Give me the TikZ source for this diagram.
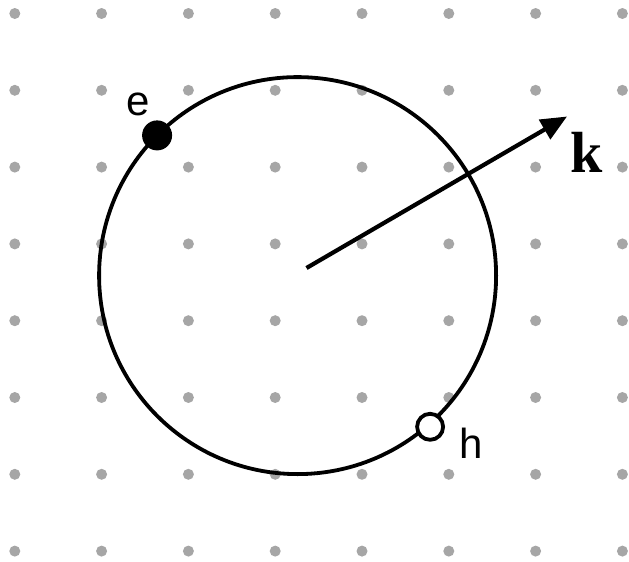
\documentclass[tikz,border=0pt]{standalone}
\usepackage{fontspec}
\setmainfont{Liberation Sans}
\newfontfamily\kserif{Liberation Serif}
\usetikzlibrary{arrows.meta,calc}
\begin{document}
\begin{tikzpicture}[x=1pt,y=-1pt,
  griddot/.style={fill=gdot,draw=none,circle,inner sep=0pt,minimum size=11pt},
  ringline/.style={draw=black,line width=3.8pt},
  particle/.style={circle,inner sep=0pt,outer sep=0pt,line width=3.8pt},
  lbl/.style={inner sep=0pt,font=\fontsize{42}{46}\selectfont},
  vec/.style={line width=4.2pt,-{Triangle[length=26pt,width=22pt]}}]
\definecolor{gdot}{RGB}{166,166,166}
\useasboundingbox (0,0) rectangle (629,562);
\foreach \i in {0,...,7}{
  \foreach \j in {0,...,7}{
    \node[griddot] (d\i\j) at ({14.8+86.8*\i},{13.5+76.8*\j}) {};
  }
}
\coordinate (O) at (297.6,275.6);
\draw[ringline] (O) circle[radius=198.5];
\node[particle,fill=black,minimum size=30pt] (e) at ($(O)+(-140.5,-140.2)$) {};
\node[particle,draw=black,fill=white,minimum size=26pt] (h) at ($(O)+(132.5,151.2)$) {};
\node[lbl] (elbl) at (138,104) {e};
\node[lbl] (hlbl) at (471,443.5) {h};
\coordinate (kstart) at (306.5,268);
\coordinate (ktip) at (567,116.5);
\draw[vec] (kstart) -- (ktip);
\node[inner sep=0pt,font=\kserif\bfseries\fontsize{58}{60}\selectfont] (klbl) at (587,152) {k};
\end{tikzpicture}
\end{document}
